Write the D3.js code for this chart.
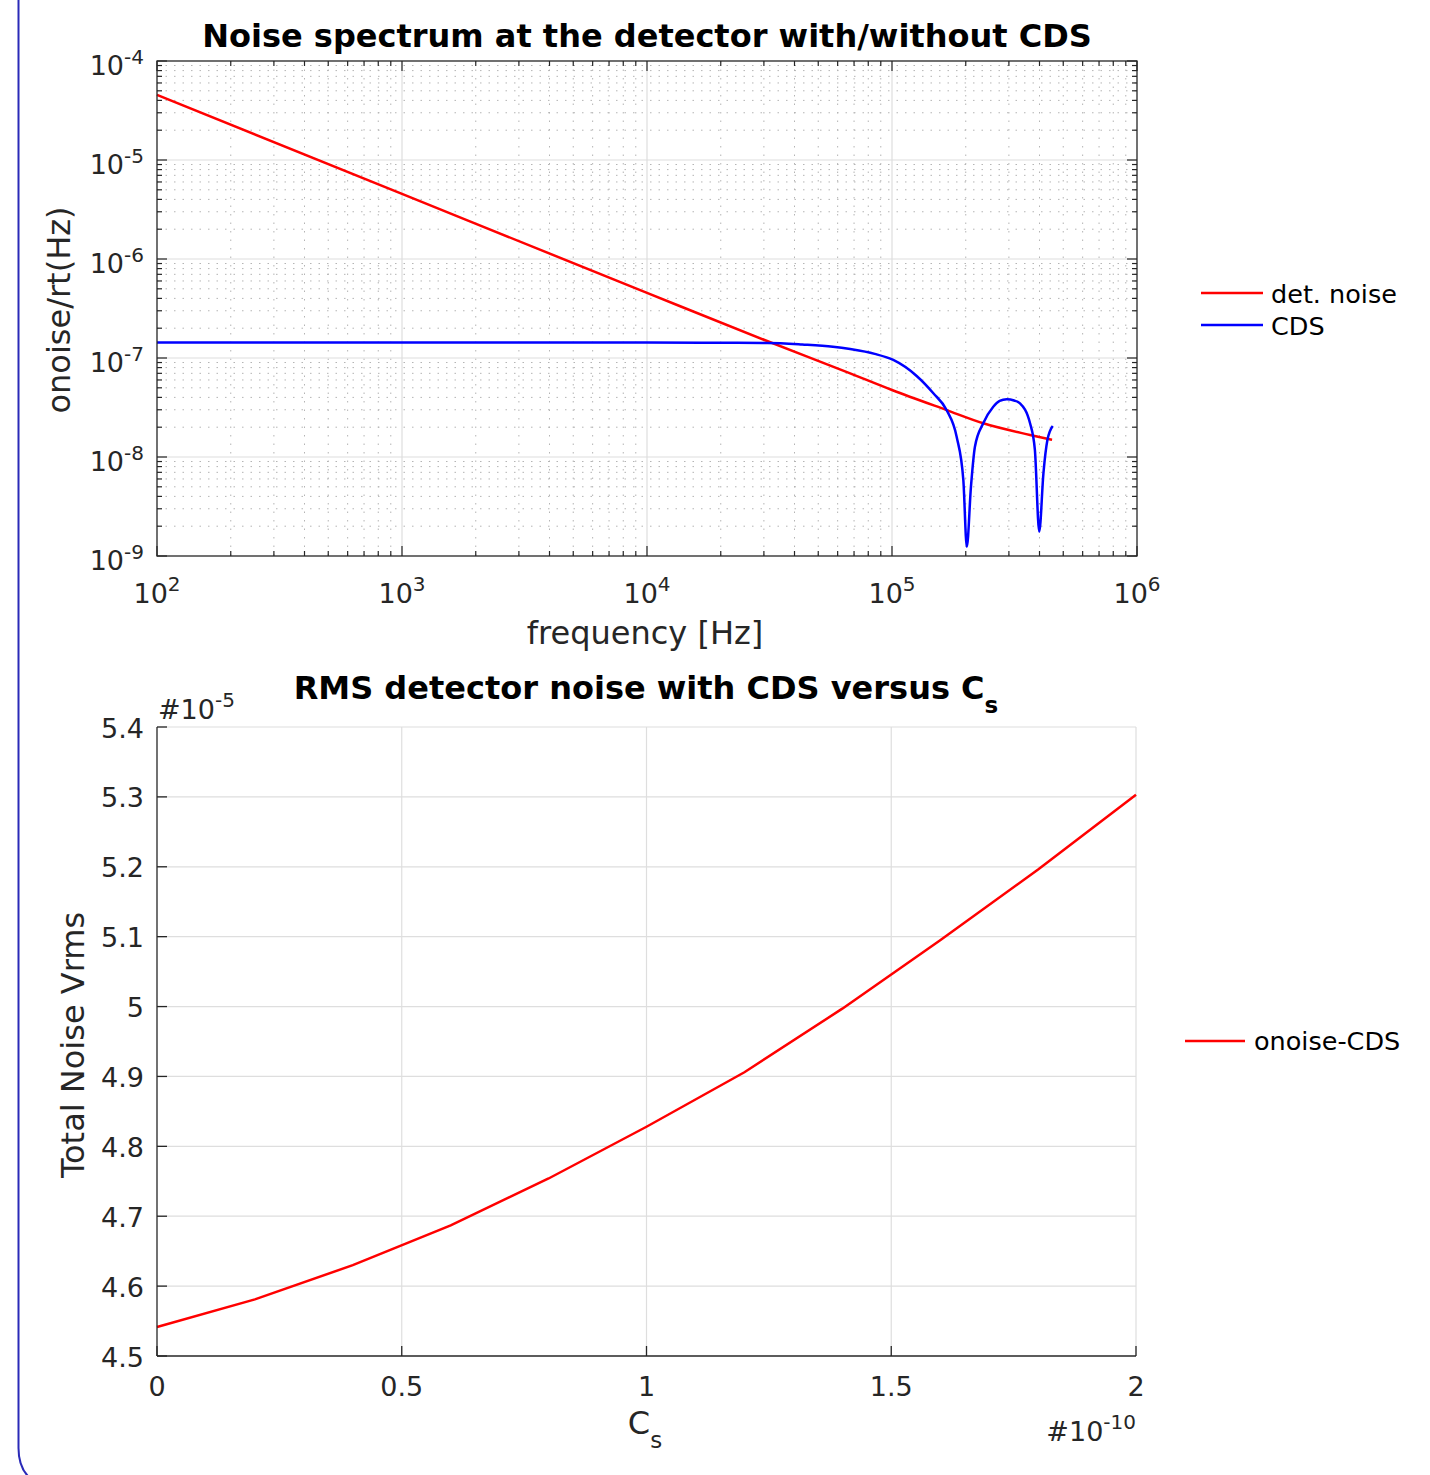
<!DOCTYPE html>
<html lang="en">
<head>
<meta charset="UTF-8">
<title>Noise spectrum</title>
<script src="https://cdn.jsdelivr.net/npm/d3@7"></script>
<style>
    html, body { margin: 0; padding: 0; background: #fff; }
    svg { display: block; font-family: "DejaVu Sans", sans-serif; }
</style>
</head>
<body>
<script>
// top plot: noise spectral density
const freqDet  = [100, 1e3, 1e4, 3e4, 6.75e4, 1e5, 1.67e5, 2.36e5, 3.66e5, 4.5e5]
const detNoise = [4.54e-5, 4.54e-6, 4.55e-7, 1.53e-7, 7.0e-8, 4.75e-8, 2.98e-8, 2.19e-8, 1.67e-8, 1.49e-8]

const freqCds  = [100, 1e3, 1e4, 2e4, 3.1e4, 4.3e4, 5.74e4, 6.75e4, 8.5e4, 1.012e5, 1.261e5, 1.475e5, 1.67e5, 1.836e5,
                  1.955e5, 2.02e5, 2.1e5, 2.18e5, 2.36e5, 2.59e5, 2.75e5, 2.94e5, 3.15e5, 3.33e5, 3.66e5,
                  3.83e5, 3.99e5, 4.15e5, 4.31e5, 4.53e5]
const cdsNoise = [1.43e-7, 1.43e-7, 1.43e-7, 1.425e-7, 1.42e-7, 1.37e-7, 1.30e-7, 1.23e-7, 1.1e-7, 9.55e-8, 6.58e-8, 4.40e-8, 2.98e-8, 1.60e-8,
                  5.86e-9, 1.24e-9, 5.0e-9, 1.27e-8, 2.2e-8, 3.22e-8, 3.68e-8, 3.83e-8, 3.72e-8, 3.48e-8, 2.19e-8,
                  1.18e-8, 1.76e-9, 6.85e-9, 1.49e-8, 2.06e-8]

const topXTicks = [1e2, 1e3, 1e4, 1e5, 1e6]
const topYTicks = [1e-9, 1e-8, 1e-7, 1e-6, 1e-5, 1e-4]

// bottom plot: RMS noise vs Cs
const csVals   = [0, 0.2e-10, 0.4e-10, 0.6e-10, 0.8e-10, 1.0e-10, 1.2e-10, 1.4e-10, 1.6e-10, 1.8e-10, 2.0e-10]
const rmsNoise = [4.5415e-5, 4.581e-5, 4.630e-5, 4.687e-5, 4.754e-5, 4.828e-5, 4.906e-5, 4.997e-5, 5.095e-5, 5.196e-5, 5.303e-5]

const botXTicks = [0, 0.5e-10, 1e-10, 1.5e-10, 2e-10]
const botYTicks = [4.5e-5, 4.6e-5, 4.7e-5, 4.8e-5, 4.9e-5, 5.0e-5, 5.1e-5, 5.2e-5, 5.3e-5, 5.4e-5]

const axisCol = '#262626'
const majorGrid = '#dedede'
const minorGrid = '#b4b4b4'
const tickFont = 27, supFont = 20, labelFont = 32, titleFont = 32, legFont = 25.5

const svg = d3.select('body').append('svg')
    .attr('width', 1430)
    .attr('height', 1475)

// page frame on the left
svg.append('path')
    .attr('d', 'M18.5,0 V1448 Q18.5,1468 30,1478')
    .attr('fill', 'none')
    .attr('stroke', '#2a2ab8')
    .attr('stroke-width', 2)

// text with a superscript / subscript part
function richText(g, x, y, base, sup, opt) {
    const t = g.append('text')
        .attr('x', x).attr('y', y)
        .attr('fill', opt.fill || axisCol)
        .attr('font-size', opt.size)
        .attr('font-weight', opt.weight || 'normal')
        .attr('text-anchor', opt.anchor || 'start')
    t.append('tspan').text(base)
    if (sup) {
        t.append('tspan')
            .attr('font-size', opt.supSize)
            .attr('dy', opt.dy)
            .text(sup)
    }
    return t
}

/* ---------------- top plot ---------------- */
const box1 = { l: 157, r: 1137, t: 61, b: 556 }
const x1 = d3.scaleLog().domain([1e2, 1e6]).range([box1.l, box1.r])
const y1 = d3.scaleLog().domain([1e-9, 1e-4]).range([box1.b, box1.t])

const minorX = [], minorY = []
for (let e = 2; e < 6; e++) for (let k = 2; k < 10; k++) minorX.push(k * Math.pow(10, e))
for (let e = -9; e < -4; e++) for (let k = 2; k < 10; k++) minorY.push(k * Math.pow(10, e))

const g1 = svg.append('g')

// minor grid (dotted)
g1.append('g').selectAll('line').data(minorX).join('line')
    .attr('x1', d => x1(d)).attr('x2', d => x1(d))
    .attr('y1', box1.t).attr('y2', box1.b)
    .attr('stroke', minorGrid).attr('stroke-width', 1).attr('stroke-dasharray', '1.5,7')
g1.append('g').selectAll('line').data(minorY).join('line')
    .attr('y1', d => y1(d)).attr('y2', d => y1(d))
    .attr('x1', box1.l).attr('x2', box1.r)
    .attr('stroke', minorGrid).attr('stroke-width', 1).attr('stroke-dasharray', '1.5,7')

// major grid
g1.append('g').selectAll('line').data(topXTicks.slice(1, -1)).join('line')
    .attr('x1', d => x1(d)).attr('x2', d => x1(d))
    .attr('y1', box1.t).attr('y2', box1.b)
    .attr('stroke', majorGrid).attr('stroke-width', 1.2)
g1.append('g').selectAll('line').data(topYTicks.slice(1, -1)).join('line')
    .attr('y1', d => y1(d)).attr('y2', d => y1(d))
    .attr('x1', box1.l).attr('x2', box1.r)
    .attr('stroke', majorGrid).attr('stroke-width', 1.2)

// curves
const line1 = d3.line().x(d => x1(d[0])).y(d => y1(d[1])).curve(d3.curveMonotoneX)
g1.append('path')
    .datum(d3.zip(freqDet, detNoise))
    .attr('d', line1)
    .attr('fill', 'none').attr('stroke', '#ff0000').attr('stroke-width', 2.5)
g1.append('path')
    .datum(d3.zip(freqCds, cdsNoise))
    .attr('d', line1)
    .attr('fill', 'none').attr('stroke', '#0000ff').attr('stroke-width', 2.5)
    .attr('stroke-linejoin', 'round')

// ticks on all four sides (inward)
const tk = g1.append('g').attr('stroke', axisCol).attr('stroke-width', 1.2)
topXTicks.concat(minorX).forEach(d => {
    const len = topXTicks.includes(d) ? 10 : 5
    tk.append('line').attr('x1', x1(d)).attr('x2', x1(d)).attr('y1', box1.b).attr('y2', box1.b - len)
    tk.append('line').attr('x1', x1(d)).attr('x2', x1(d)).attr('y1', box1.t).attr('y2', box1.t + len)
})
topYTicks.concat(minorY).forEach(d => {
    const len = topYTicks.includes(d) ? 10 : 5
    tk.append('line').attr('y1', y1(d)).attr('y2', y1(d)).attr('x1', box1.l).attr('x2', box1.l + len)
    tk.append('line').attr('y1', y1(d)).attr('y2', y1(d)).attr('x1', box1.r).attr('x2', box1.r - len)
})
g1.append('rect')
    .attr('x', box1.l).attr('y', box1.t)
    .attr('width', box1.r - box1.l).attr('height', box1.b - box1.t)
    .attr('fill', 'none').attr('stroke', axisCol).attr('stroke-width', 1.3)

// tick labels
topXTicks.forEach(d => {
    richText(g1, x1(d), 603, '10', String(Math.round(Math.log10(d))),
        { size: tickFont, supSize: supFont, dy: -12, anchor: 'middle' })
})
topYTicks.forEach(d => {
    richText(g1, 144, y1(d) + 14, '10', String(Math.round(Math.log10(d))),
        { size: tickFont, supSize: supFont, dy: -11, anchor: 'end' })
})

g1.append('text')
    .attr('x', 647).attr('y', 47)
    .attr('text-anchor', 'middle').attr('font-size', titleFont).attr('font-weight', 'bold')
    .attr('fill', '#000')
    .text('Noise spectrum at the detector with/without CDS')
g1.append('text')
    .attr('x', 645).attr('y', 644)
    .attr('text-anchor', 'middle').attr('font-size', labelFont).attr('fill', axisCol)
    .text('frequency [Hz]')
g1.append('text')
    .attr('transform', 'translate(70,310) rotate(-90)')
    .attr('text-anchor', 'middle').attr('font-size', labelFont).attr('fill', axisCol)
    .text('onoise/rt(Hz)')

// legend
const leg1 = [{ name: 'det. noise', col: '#ff0000' }, { name: 'CDS', col: '#0000ff' }]
leg1.forEach((d, i) => {
    const yy = 293 + i * 32
    g1.append('line').attr('x1', 1201).attr('x2', 1263).attr('y1', yy).attr('y2', yy)
        .attr('stroke', d.col).attr('stroke-width', 2.5)
    g1.append('text').attr('x', 1271).attr('y', yy + 10)
        .attr('font-size', legFont).attr('fill', '#000').text(d.name)
})

/* ---------------- bottom plot ---------------- */
const box2 = { l: 157, r: 1136, t: 727, b: 1356 }
const x2 = d3.scaleLinear().domain([0, 2e-10]).range([box2.l, box2.r])
const y2 = d3.scaleLinear().domain([4.5e-5, 5.4e-5]).range([box2.b, box2.t])
const g2 = svg.append('g')

g2.append('g').selectAll('line').data(botXTicks.slice(1)).join('line')
    .attr('x1', d => x2(d)).attr('x2', d => x2(d))
    .attr('y1', box2.t).attr('y2', box2.b)
    .attr('stroke', majorGrid).attr('stroke-width', 1.2)
g2.append('g').selectAll('line').data(botYTicks.slice(1)).join('line')
    .attr('y1', d => y2(d)).attr('y2', d => y2(d))
    .attr('x1', box2.l).attr('x2', box2.r)
    .attr('stroke', majorGrid).attr('stroke-width', 1.2)

g2.append('path')
    .datum(d3.zip(csVals, rmsNoise))
    .attr('d', d3.line().x(d => x2(d[0])).y(d => y2(d[1])))
    .attr('fill', 'none').attr('stroke', '#ff0000').attr('stroke-width', 2.5)

const tk2 = g2.append('g').attr('stroke', axisCol).attr('stroke-width', 1.3)
botXTicks.forEach(d => {
    tk2.append('line').attr('x1', x2(d)).attr('x2', x2(d)).attr('y1', box2.b).attr('y2', box2.b - 10)
})
botYTicks.forEach(d => {
    tk2.append('line').attr('y1', y2(d)).attr('y2', y2(d)).attr('x1', box2.l).attr('x2', box2.l + 10)
})
tk2.append('line').attr('x1', box2.l).attr('x2', box2.l).attr('y1', box2.t).attr('y2', box2.b)
tk2.append('line').attr('x1', box2.l).attr('x2', box2.r).attr('y1', box2.b).attr('y2', box2.b)

const fmt = v => String(+v.toFixed(1))
g2.append('g').selectAll('text').data(botXTicks).join('text')
    .attr('x', d => x2(d)).attr('y', 1396)
    .attr('text-anchor', 'middle').attr('font-size', tickFont).attr('fill', axisCol)
    .text(d => fmt(d / 1e-10))
g2.append('g').selectAll('text').data(botYTicks).join('text')
    .attr('x', 144).attr('y', d => y2(d) + 10.5)
    .attr('text-anchor', 'end').attr('font-size', tickFont).attr('fill', axisCol)
    .text(d => fmt(d / 1e-5))

richText(g2, 158, 719, '#10', '-5', { size: tickFont, supSize: supFont, dy: -12 })
richText(g2, 1136, 1441, '#10', '-10', { size: tickFont, supSize: supFont, dy: -12, anchor: 'end' })

richText(g2, 646, 699, 'RMS detector noise with CDS versus C', 's',
    { size: titleFont, supSize: 23, dy: 14, weight: 'bold', fill: '#000', anchor: 'middle' })
richText(g2, 645, 1434, 'C', 's', { size: labelFont, supSize: 23, dy: 14, anchor: 'middle' })
g2.append('text')
    .attr('transform', 'translate(84,1045) rotate(-90)')
    .attr('text-anchor', 'middle').attr('font-size', labelFont).attr('fill', axisCol)
    .text('Total Noise Vrms')

g2.append('line').attr('x1', 1185).attr('x2', 1245).attr('y1', 1041).attr('y2', 1041)
    .attr('stroke', '#ff0000').attr('stroke-width', 2.5)
g2.append('text').attr('x', 1254).attr('y', 1050)
    .attr('font-size', legFont).attr('fill', '#000').text('onoise-CDS')
</script>
</body>
</html>
